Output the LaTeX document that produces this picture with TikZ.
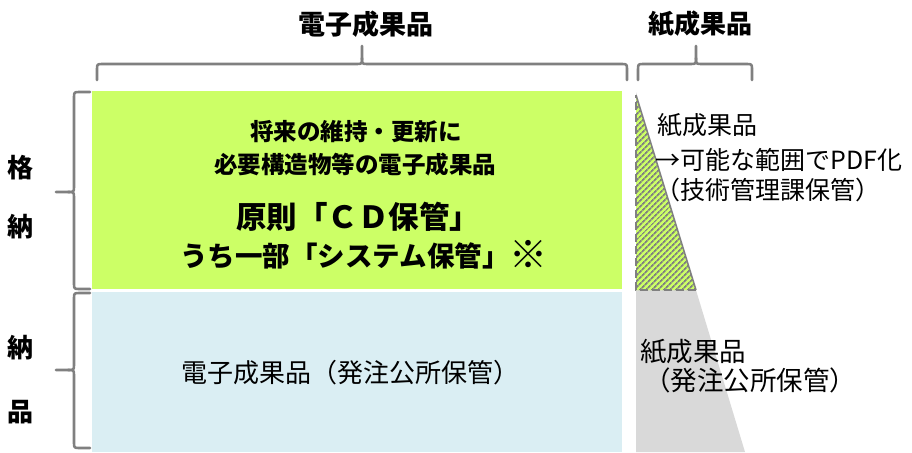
\documentclass[tikz,border=0pt]{standalone}
\usepackage{fontspec}
\setmainfont{Noto Sans CJK JP}
\usetikzlibrary{patterns.meta}
\definecolor{lgreen}{HTML}{CCFF66}
\definecolor{lblue}{HTML}{DAEEF3}
\definecolor{lgray}{HTML}{D9D9D9}
\definecolor{bgray}{HTML}{808080}
\tikzset{
  brace/.style={draw=bgray, line width=2.6pt, line cap=round, line join=round},
  txt/.style={inner sep=0pt, text=black},
  fs/.style={font=\fontsize{#1}{#1}\selectfont},
  fsb/.style={font=\fontsize{#1}{#1}\selectfont\bfseries}
}
\begin{document}
\begin{tikzpicture}[x=1pt,y=-1pt]
\useasboundingbox (0,0) rectangle (912,452);
\fill[white] (0,0) rectangle (912,452);
% boxes
\fill[lgreen] (92,91) rectangle (622,289);
\fill[lblue] (92,292) rectangle (622,452);
% paper shape
\fill[lgray] (636,92) -- (745,452) -- (636,452) -- cycle;
\fill[lgreen] (636,95) -- (696,290) -- (636,290) -- cycle;
\fill[pattern={Lines[angle=45,distance=4pt,line width=1.8pt]}, pattern color=bgray] (636,95) -- (696,290) -- (636,290) -- cycle;
\draw[draw=bgray, line width=2.5pt, dash pattern=on 8pt off 4pt] (696,290) -- (636,290) -- (636,95);
\draw[draw=bgray, line width=1.5pt] (636,95) -- (696,290);
% top braces
\coordinate (b1l) at (97,80);
\coordinate (b1r) at (627,80);
\coordinate (b1t) at (362,46);
\draw[brace] (b1l) -- (97,70) .. controls (97,64) .. (103,64) -- (356,64) .. controls (362,64) .. (362,58) -- (b1t);
\draw[brace] (362,58) .. controls (362,64) .. (368,64) -- (621,64) .. controls (627,64) .. (627,70) -- (b1r);
\coordinate (b2l) at (638,80);
\coordinate (b2r) at (752,80);
\coordinate (b2t) at (696,46);
\draw[brace] (b2l) -- (638,70) .. controls (638,64) .. (644,64) -- (690,64) .. controls (696,64) .. (696,58) -- (b2t);
\draw[brace] (696,58) .. controls (696,64) .. (702,64) -- (746,64) .. controls (752,64) .. (752,70) -- (b2r);
% left braces
\draw[brace] (90,92) -- (80,92) .. controls (74,92) .. (74,98) -- (74,186) .. controls (74,192) .. (68,192) -- (56,192);
\draw[brace] (68,192) .. controls (74,192) .. (74,198) -- (74,283) .. controls (74,289) .. (80,289) -- (90,289);
\draw[brace] (90,293) -- (80,293) .. controls (74,293) .. (74,299) -- (74,364) .. controls (74,370) .. (68,370) -- (56,370);
\draw[brace] (68,370) .. controls (74,370) .. (74,376) -- (74,442) .. controls (74,448) .. (80,448) -- (90,448);
% headings
\node[txt, fsb=27] (h1) at (366,24) {電子成果品};
\node[txt, fsb=26] (h2) at (700,24) {紙成果品};
\node[txt, fsb=26] (l1) at (20,168) {格};
\node[txt, fsb=26] (l2) at (20,227) {納};
\node[txt, fsb=26] (l3) at (20,348) {納};
\node[txt, fsb=26] (l4) at (20,412) {品};
% green text
\node[txt, fsb=23.5] (g1) at (356,132) {将来の維持・更新に};
\node[txt, fsb=23.5] (g2) at (355,165) {必要構造物等の電子成果品};
\node[txt, fsb=30.5] (g3) at (358,217) {原則「ＣＤ保管」};
\node[txt, fsb=27.5] (g4) at (364,255) {うち一部「システム保管」\raisebox{-2pt}{\fontsize{38}{38}\selectfont ※}};
% blue text
\node[txt, fs=26] (bt) at (350,373) {電子成果品（発注公所保管）};
% right texts
\node[txt, fs=25, anchor=west] (r1) at (657,125) {紙成果品};
\node[txt, fs=25, anchor=west] (r2) at (655,160) {→可能な範囲でPDF化};
\node[txt, fs=25, anchor=west] (r3) at (655,190) {（技術管理課保管）};
\node[txt, fs=26.5, anchor=west] (r4) at (640,352) {紙成果品};
\node[txt, fs=26.5, anchor=west] (r5) at (644,380) {（発注公所保管）};
\end{tikzpicture}
\end{document}
